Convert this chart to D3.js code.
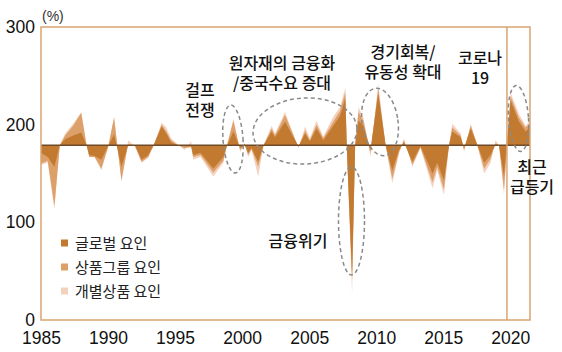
<!DOCTYPE html>
<html>
<head>
<meta charset="utf-8">
<script src="https://cdn.jsdelivr.net/npm/d3@7"></script>
<style>
  body { margin: 0; background: #fff; }
  svg { display: block; }
</style>
</head>
<body>
<div id="container"></div>
<script>
/* CONSTANTS AND GLOBALS */
const width = 562,
      height = 352,
      margin = {top: 27, bottom: 32, left: 41, right: 32};

const baseValue = 179;

/* DATA (deviation from the base line, %p) */
const years = [1985.0, 1985.5, 1986.0, 1986.4, 1986.8, 1987.4, 1988.0, 1988.4, 1988.6, 1989.0,
  1989.5, 1990.0, 1990.45, 1991.0, 1991.5, 1992.0, 1992.5, 1993.0, 1993.4, 1994.0,
  1994.35, 1994.7, 1995.2, 1995.7, 1996.2, 1996.35, 1996.9, 1997.85, 1998.6, 1998.85,
  1999.35, 1999.85, 2000.2, 2000.45, 2000.7, 2001.2, 2001.6, 2002.2, 2002.45, 2003.2,
  2004.2, 2004.7, 2005.05, 2005.55, 2006.05, 2006.8, 2007.3, 2007.7, 2007.8, 2008.2,
  2008.43, 2008.68, 2009.05, 2009.57, 2010.15, 2010.7, 2011.2, 2011.7, 2012.07, 2012.7,
  2013.3, 2014.2, 2014.55, 2015.05, 2015.43, 2015.67, 2016.3, 2016.55, 2017.05, 2017.55,
  2018.05, 2018.53, 2018.9, 2019.16, 2019.53, 2020.02, 2020.65, 2021.14, 2021.47];

const globalFactor = [-8, -12, -22, 0, 6, 10, 13, 0, -10, -11,
  -15, -1, 11, -22, 0, 0, -15, -10, 0, 19,
  12, 3, 0, -1, -1, -10, -8, -24, -12, -1,
  14, -3, 0, -8, -3, -17, 0, 14, 8, 24,
  -1, 12, 4, 17, 5, 20, 30, 48, 0, -133,
  0, 25, 20, -5, 53, 0, -26, -5, 3, -17,
  -1, -29, -18, -36, 0, 14, 8, -3, 17, 0,
  -18, -10, 1, 0, -32, 46, 24, 14, 18];

const groupFactor = [-11, -4, -40, 0, 4, 10, 20, 0, -2, -1,
  -9, -1, 17, -14, 1, 0, -2, -2, 0, 2,
  2, 2, 0, -2, -1, -2, -2, -4, -4, 0,
  11, -2, 1, -2, -1, -5, 0, 3, 2, 7,
  -1, 3, 1, 4, 2, 4, 5, 6, 0, -5,
  0, 9, 5, -3, 5, 0, -8, -2, 2, -3,
  -1, -9, -4, -9, 0, 4, 2, -2, 3, 0,
  -6, -4, 1, 0, -13, 4, 4, 4, 4];

const itemFactor = [-1, -2, -4, 0, 2, 2, 1, 0, 0, 0,
  -2, -1, 1, -2, 4, -1, -1, -1, 0, 2,
  4, 2, 1, -2, 6, -3, -2, -4, -2, -1,
  2, -2, 1, -2, -1, -10, 0, 3, 2, 3,
  -1, 4, 2, 4, 2, 5, 4, 5, 0, -14,
  0, 5, 3, -4, 5, 0, -5, -2, 2, -2,
  -1, -6, -4, -6, 0, 4, 2, -2, 2, -1,
  -5, -4, 3, 0, -6, 4, 4, 2, 3];

const seriesNames = ["글로벌 요인", "상품그룹 요인", "개별상품 요인"];
const seriesColors = ["#c27a30", "#dca06b", "#f4d1bd"];

const yTicks = [0, 100, 200, 300];
const xTicks = [1985, 1990, 1995, 2000, 2005, 2010, 2015, 2020];
const breakYear = 2019.75;

const notes = [
  {lines: ["걸프", "전쟁"], x: 200, y: 96},
  {lines: ["원자재의 금융화", "/중국수요 증대"], x: 282, y: 69},
  {lines: ["경기회복/", "유동성 확대"], x: 403, y: 58},
  {lines: ["코로나", "19"], x: 480, y: 64},
  {lines: ["금융위기"], x: 298, y: 247},
  {lines: ["최근", "급등기"], x: 532, y: 173}
];

const ellipses = [
  {cx: 233, cy: 139, rx: 10, ry: 34, rot: -4},
  {cx: 305, cy: 131, rx: 52, ry: 33, rot: -3},
  {cx: 351.5, cy: 221, rx: 13, ry: 54, rot: 0},
  {cx: 380, cy: 122, rx: 18, ry: 34, rot: -8},
  {cx: 518.5, cy: 118.5, rx: 10, ry: 33, rot: -4}
];

const data = years.map((yr, i) => ({
  year: yr,
  g: globalFactor[i],
  gs: globalFactor[i] + groupFactor[i],
  total: globalFactor[i] + groupFactor[i] + itemFactor[i]
}));

/* SCALES */
const xScale = d3.scaleLinear()
                 .domain([1985, 2021.47])
                 .range([margin.left, width - margin.right]);

const yScale = d3.scaleLinear()
                 .domain([0, 300])
                 .range([height - margin.bottom, margin.top]);

/* HTML ELEMENTS */
const svg = d3.select("#container")
              .append("svg")
              .attr("width", width)
              .attr("height", height);

const frameColor = "#d9a470";

// areas: item (total) first, then group, then global on top
const keys = ["total", "gs", "g"];
const fills = [seriesColors[2], seriesColors[1], seriesColors[0]];

keys.forEach((k, i) => {
  const area = d3.area()
                 .x(d => xScale(d.year))
                 .y0(yScale(baseValue))
                 .y1(d => yScale(baseValue + d[k]));
  svg.append("path")
     .datum(data)
     .attr("d", area)
     .attr("fill", fills[i]);
});

// base line
svg.append("line")
   .attr("x1", xScale(1985))
   .attr("x2", xScale(2021.47))
   .attr("y1", yScale(baseValue))
   .attr("y2", yScale(baseValue))
   .attr("stroke", "#6e4a28")
   .attr("stroke-width", 1.6);

// frame
svg.append("rect")
   .attr("x", margin.left)
   .attr("y", margin.top)
   .attr("width", width - margin.left - margin.right)
   .attr("height", height - margin.top - margin.bottom)
   .attr("fill", "none")
   .attr("stroke", frameColor)
   .attr("stroke-width", 1.5);

svg.append("line")
   .attr("x1", xScale(breakYear))
   .attr("x2", xScale(breakYear))
   .attr("y1", margin.top)
   .attr("y2", height - margin.bottom)
   .attr("stroke", frameColor)
   .attr("stroke-width", 1.5);

/* AXES */
const yAxis = d3.axisLeft(yScale)
                .tickValues(yTicks)
                .tickSize(0)
                .tickPadding(6);

const xAxis = d3.axisBottom(xScale)
                .tickValues(xTicks)
                .tickFormat(d3.format("d"))
                .tickSize(0)
                .tickPadding(12);

svg.append("g")
   .attr("transform", `translate(${margin.left}, 0)`)
   .call(yAxis)
   .call(g => g.select(".domain").remove())
   .selectAll("text")
   .attr("font-family", "Liberation Sans, Arial, sans-serif")
   .attr("font-size", 17.5)
   .attr("fill", "#111");

svg.append("g")
   .attr("transform", `translate(0, ${height - margin.bottom})`)
   .call(xAxis)
   .call(g => g.select(".domain").remove())
   .selectAll("text")
   .attr("font-family", "Liberation Sans, Arial, sans-serif")
   .attr("font-size", 17.5)
   .attr("fill", "#111");

svg.append("text")
   .attr("x", 42)
   .attr("y", 21)
   .attr("font-family", "Liberation Sans, Arial, sans-serif")
   .attr("font-size", 14)
   .attr("fill", "#333")
   .text("(%)");

/* ANNOTATIONS */
svg.selectAll(".ell")
   .data(ellipses)
   .join("ellipse")
   .attr("class", "ell")
   .attr("cx", d => d.cx)
   .attr("cy", d => d.cy)
   .attr("rx", d => d.rx)
   .attr("ry", d => d.ry)
   .attr("transform", d => `rotate(${d.rot}, ${d.cx}, ${d.cy})`)
   .attr("fill", "none")
   .attr("stroke", "#8a8a8a")
   .attr("stroke-width", 1.5)
   .attr("stroke-dasharray", "4,3");

const noteText = svg.selectAll(".note")
                    .data(notes)
                    .join("text")
                    .attr("class", "note")
                    .attr("text-anchor", "middle")
                    .attr("font-family", "Noto Sans CJK KR, sans-serif")
                    .attr("font-size", 16)
                    .attr("font-weight", 500)
                    .attr("fill", "#111");

noteText.selectAll("tspan")
        .data(d => d.lines.map((t, i) => ({t, i, x: d.x, y: d.y})))
        .join("tspan")
        .attr("x", d => d.x)
        .attr("y", d => d.y + d.i * 20)
        .text(d => d.t);

/* LEGEND */
const legend = svg.append("g")
                  .attr("transform", "translate(61, 243)");

seriesNames.forEach((name, i) => {
  const row = legend.append("g")
                    .attr("transform", `translate(0, ${i * 24})`);
  row.append("rect")
     .attr("x", 0)
     .attr("y", -3.5)
     .attr("width", 7)
     .attr("height", 7)
     .attr("fill", seriesColors[i]);
  row.append("text")
     .attr("x", 14)
     .attr("y", 5.5)
     .attr("font-family", "Noto Sans CJK KR, sans-serif")
     .attr("font-size", 15)
     .attr("fill", "#222")
     .text(name);
});
</script>
</body>
</html>
